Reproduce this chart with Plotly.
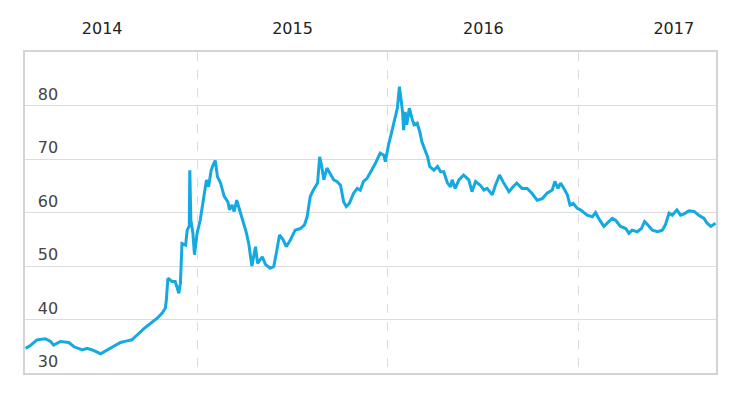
import plotly.graph_objects as go

# ---- data ----
dates = [
    "2014-02-05", "2014-02-15", "2014-02-27", "2014-03-15", "2014-03-25", "2014-03-31",
    "2014-04-13", "2014-04-29", "2014-05-09", "2014-05-25", "2014-06-03", "2014-06-13",
    "2014-06-29", "2014-07-12", "2014-07-21", "2014-08-06", "2014-08-19", "2014-08-28",
    "2014-09-07", "2014-09-20", "2014-10-03", "2014-10-15", "2014-10-25", "2014-10-31",
    "2014-11-02", "2014-11-05", "2014-11-13", "2014-11-19", "2014-11-26", "2014-11-29",
    "2014-12-02", "2014-12-09", "2014-12-12", "2014-12-16", "2014-12-17", "2014-12-19",
    "2014-12-23", "2014-12-26", "2014-12-31",
    "2015-01-06", "2015-01-13", "2015-01-18", "2015-01-22", "2015-01-27", "2015-02-01",
    "2015-02-04", "2015-02-08", "2015-02-14", "2015-02-21", "2015-02-28", "2015-03-03",
    "2015-03-08", "2015-03-12", "2015-03-17", "2015-03-24", "2015-03-30", "2015-04-04",
    "2015-04-09", "2015-04-15", "2015-04-22", "2015-04-26", "2015-05-05", "2015-05-11",
    "2015-05-20", "2015-05-27", "2015-06-02", "2015-06-07", "2015-06-14", "2015-06-20",
    "2015-06-28", "2015-07-07", "2015-07-17", "2015-07-25", "2015-07-30", "2015-08-05",
    "2015-08-11", "2015-08-19", "2015-08-23", "2015-08-27", "2015-08-31", "2015-09-06",
    "2015-09-12", "2015-09-19", "2015-09-25", "2015-10-02", "2015-10-08", "2015-10-13",
    "2015-10-19", "2015-10-27", "2015-11-03", "2015-11-09", "2015-11-15", "2015-11-22",
    "2015-11-29", "2015-12-08", "2015-12-17", "2015-12-24", "2015-12-27",
    "2016-01-02", "2016-01-09", "2016-01-15", "2016-01-19", "2016-01-23", "2016-01-26",
    "2016-01-29", "2016-01-31", "2016-02-03", "2016-02-06", "2016-02-11", "2016-02-16",
    "2016-02-20", "2016-02-26", "2016-03-02", "2016-03-06", "2016-03-13", "2016-03-17",
    "2016-03-21", "2016-03-29", "2016-04-05", "2016-04-11", "2016-04-17", "2016-04-24",
    "2016-04-30", "2016-05-03", "2016-05-09", "2016-05-16", "2016-05-25", "2016-06-04",
    "2016-06-10", "2016-06-17", "2016-06-26", "2016-07-03", "2016-07-09", "2016-07-19",
    "2016-07-25", "2016-08-02", "2016-08-10", "2016-08-20", "2016-08-28", "2016-09-04",
    "2016-09-14", "2016-09-24", "2016-10-03", "2016-10-13", "2016-10-23", "2016-11-01",
    "2016-11-11", "2016-11-16", "2016-11-22", "2016-11-27", "2016-12-05", "2016-12-10",
    "2016-12-15", "2016-12-21", "2016-12-29",
    "2017-01-04", "2017-01-17", "2017-01-27", "2017-02-02", "2017-02-08", "2017-02-18",
    "2017-02-25", "2017-03-06", "2017-03-12", "2017-03-22", "2017-04-01", "2017-04-07",
    "2017-04-13", "2017-04-23", "2017-05-01", "2017-05-07", "2017-05-13", "2017-05-22",
    "2017-06-01", "2017-06-10", "2017-06-16", "2017-06-23", "2017-06-29", "2017-07-08",
    "2017-07-15", "2017-07-21", "2017-07-31", "2017-08-10", "2017-08-19", "2017-08-29",
    "2017-09-04", "2017-09-11", "2017-09-20",
]
values = [
    34.6, 35.2, 36.2, 36.4, 35.9, 35.2,
    35.9, 35.7, 34.9, 34.3, 34.6, 34.3,
    33.6, 34.3, 34.7, 35.7, 36.0, 36.2,
    37.1, 38.3, 39.3, 40.2, 41.2, 42.1,
    43.6, 47.7, 47.1, 47.1, 44.9, 46.8,
    54.2, 53.9, 56.7, 57.5, 67.9, 58.6,
    56.1, 52.1, 56.1,
    58.6, 63.0, 66.1, 64.8, 67.9, 69.2,
    69.7, 66.7, 65.5, 63.0, 62.0, 60.5,
    61.4, 60.2, 62.3, 60.0, 58.0, 56.4,
    54.2, 50.0, 53.6, 50.5, 51.7, 50.3,
    49.6, 49.9, 53.0, 55.8, 54.9, 53.6,
    54.9, 56.7, 57.0, 57.7, 59.2, 63.0,
    64.2, 65.5, 70.4, 68.6, 66.1, 68.3,
    67.3, 66.1, 65.8, 65.1, 62.0, 61.1,
    61.7, 63.6, 64.5, 64.2, 65.8, 66.4,
    67.6, 69.2, 71.1, 70.7, 69.5,
    72.6, 75.4, 77.6, 79.5, 83.5, 80.7,
    78.8, 75.4, 78.8, 76.4, 79.5, 77.6,
    76.4, 76.7, 75.1, 73.2, 71.4, 70.4,
    68.6, 67.9, 68.6, 67.6, 67.6, 65.5,
    64.8, 66.1, 64.5, 66.1, 67.0, 66.1,
    63.9, 65.8, 65.1, 64.2, 64.5, 63.3,
    65.1, 67.0, 65.5, 63.9, 64.8, 65.5,
    64.5, 64.5, 63.6, 62.3, 62.6, 63.6,
    64.2, 65.8, 64.5, 65.5, 64.2, 63.3,
    61.4, 61.7, 60.8,
    60.5, 59.5, 59.2, 60.0, 58.9, 57.4,
    58.0, 58.9, 58.6, 57.4, 57.0, 56.1,
    56.7, 56.4, 57.0, 58.3, 57.7, 56.7,
    56.4, 56.7, 57.7, 59.9, 59.5, 60.5,
    59.5, 59.7, 60.3, 60.2, 59.5, 58.9,
    58.0, 57.4, 58.0,
]

year_label_dates = ["2014-07-02", "2015-07-02", "2016-07-02", "2017-07-02"]
year_labels = ["2014", "2015", "2016", "2017"]
year_boundaries = ["2015-01-01", "2016-01-01", "2017-01-01"]
y_ticks = [30, 40, 50, 60, 70, 80]
y_range = [30, 90]
x_range = ["2014-02-04", "2017-09-21"]

LINE_COLOR = "#14a9e1"
GRID_COLOR = "#dcdcdc"
BORDER_COLOR = "#d4d4d4"
TEXT_COLOR = "#222222"
FONT = "DejaVu Sans"

fig = go.Figure()
fig.add_trace(go.Scatter(
    x=dates, y=values, mode="lines",
    line=dict(color=LINE_COLOR, width=3),
    hoverinfo="x+y", showlegend=False,
))

fig.update_layout(
    width=742, height=399,
    margin=dict(l=25, r=26, t=52, b=26),
    paper_bgcolor="white", plot_bgcolor="white",
    font=dict(family=FONT, size=16, color=TEXT_COLOR),
    xaxis=dict(
        type="date", side="top", range=x_range, automargin=False,
        tickmode="array", tickvals=year_label_dates, ticktext=year_labels,
        showgrid=False, ticks="", ticklabelstandoff=10,
        showline=True, linecolor=BORDER_COLOR, linewidth=2, mirror=True,
        zeroline=False,
        minor=dict(tickmode="array", tickvals=year_boundaries, showgrid=True,
                   gridcolor=GRID_COLOR, griddash="dash", gridwidth=1, ticks=""),
    ),
    yaxis=dict(
        range=y_range, tickmode="array", tickvals=y_ticks, automargin=False,
        ticktext=[str(v) for v in y_ticks],
        ticklabelposition="inside top", ticks="", ticklabelstandoff=12,
        showgrid=True, gridcolor=GRID_COLOR, gridwidth=1,
        showline=True, linecolor=BORDER_COLOR, linewidth=2, mirror=True,
        zeroline=False,
    ),
)

fig.write_html(
    "out.html",
    config={"displayModeBar": False},
    post_script="document.body.style.margin='0';document.body.style.padding='0';",
)
